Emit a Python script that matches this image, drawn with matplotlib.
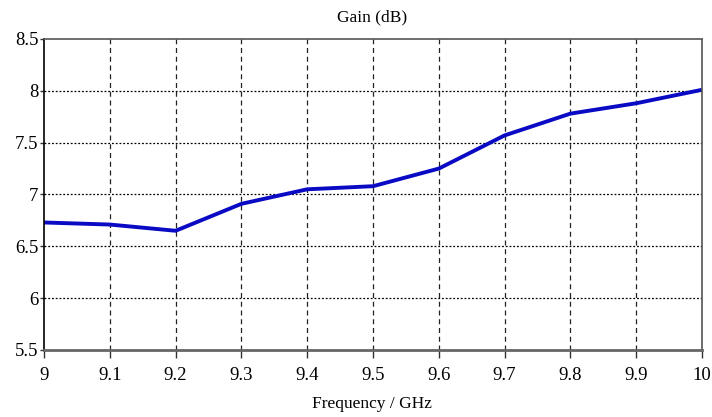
import matplotlib.pyplot as plt

freq = [9.0, 9.1, 9.2, 9.3, 9.4, 9.5, 9.6, 9.7, 9.8, 9.9, 10.0]
gain = [6.73, 6.71, 6.65, 6.91, 7.05, 7.08, 7.25, 7.57, 7.78, 7.88, 8.01]

xticks = [9, 9.1, 9.2, 9.3, 9.4, 9.5, 9.6, 9.7, 9.8, 9.9, 10]
xtick_labels = ['9', '9.1', '9.2', '9.3', '9.4', '9.5', '9.6', '9.7', '9.8', '9.9', '10']
yticks = [5.5, 6, 6.5, 7, 7.5, 8, 8.5]
ytick_labels = ['5.5', '6', '6.5', '7', '7.5', '8', '8.5']

plt.rcParams['font.family'] = ['Liberation Serif', 'DejaVu Serif']

fig = plt.figure(figsize=(7.12, 4.17), dpi=100)
ax = fig.add_axes([0.0618, 0.1607, 0.9242, 0.7458])

ax.plot(freq, gain, color='#0a0ac4', linewidth=2.8, solid_capstyle='butt')

ax.set_xlim(9, 10)
ax.set_ylim(5.5, 8.5)
ax.set_xticks(xticks)
ax.set_xticklabels(xtick_labels)
ax.set_yticks(yticks)
ax.set_yticklabels(ytick_labels)
ax.tick_params(labelsize=13.5, width=1, color='#333333')
ax.tick_params(axis='x', length=6, pad=6)
ax.tick_params(axis='y', length=3, pad=1)

# grid: dotted horizontals, dashed verticals
for y in yticks[1:-1]:
    ax.axhline(y, color='black', linewidth=0.9, linestyle=(0, (1.5, 1.5)), zorder=0)
for x in xticks[1:-1]:
    ax.axvline(x, color='#222222', linewidth=0.9, linestyle=(0, (4, 3)), zorder=0)

ax.spines['left'].set_linewidth(1.2)
ax.spines['left'].set_color('black')
ax.spines['bottom'].set_linewidth(2.0)
ax.spines['bottom'].set_color('#666666')
ax.spines['top'].set_linewidth(1.2)
ax.spines['top'].set_color('#555555')
ax.spines['right'].set_linewidth(1.2)
ax.spines['right'].set_color('#555555')

fig.text(0.523, 0.958, 'Gain (dB)', ha='center', va='center', fontsize=12.5)
fig.text(0.523, 0.032, 'Frequency / GHz', ha='center', va='center', fontsize=12.5)

fig.savefig('out.png', dpi=100)
